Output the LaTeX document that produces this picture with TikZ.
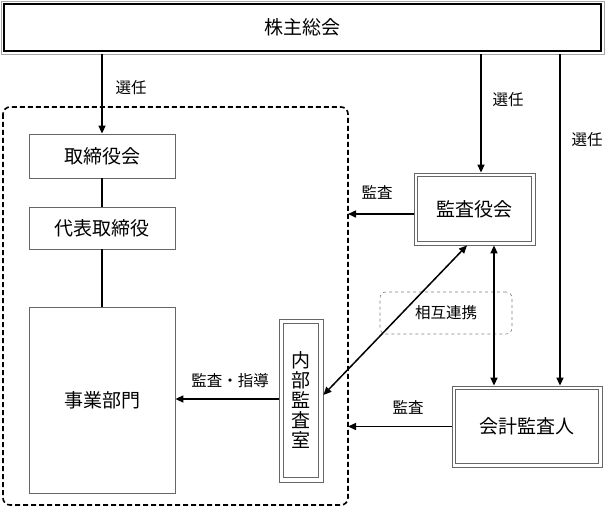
\documentclass[tikz,border=0pt]{standalone}
\usepackage{fontspec}
\setmainfont{Noto Sans CJK JP}
\usetikzlibrary{arrows.meta,calc}
\begin{document}
\begin{tikzpicture}[x=1pt,y=-1pt,
  box/.style={draw=gray!80!black,line width=0.8pt,fill=white,inner sep=0pt,font=\fontsize{19}{20}\selectfont},
  lbl/.style={font=\fontsize{15.5}{17}\selectfont,inner sep=0pt},
  arr/.style={line width=1.5pt,-{Triangle[length=8pt,width=7pt]}},
  darr/.style={line width=1.5pt,{Triangle[length=8pt,width=7pt]}-{Triangle[length=8pt,width=7pt]}},
  ln/.style={line width=1.5pt}]
\useasboundingbox (0,0) rectangle (605,508);
% dashed group
\draw[line width=1.6pt,dash pattern=on 5pt off 3pt,rounded corners=7pt] (3,107) rectangle (348,505);
\coordinate (grpE) at (348,300);
% nodes
\node[box,draw=gray!70,minimum width=603pt,minimum height=53pt] (gm) at (302.5,27.5) {株主総会};
\draw[line width=2.2pt] ([xshift=3.5pt,yshift=-3.5pt]gm.north west) rectangle ([xshift=-3.5pt,yshift=3.5pt]gm.south east);
\node[box,minimum width=146pt,minimum height=44pt] (tr) at (102,156) {取締役会};
\node[box,minimum width=146pt,minimum height=42pt] (dr) at (102,228) {代表取締役};
\node[box,minimum width=146pt,minimum height=186pt] (jb) at (102,400) {事業部門};
\node[box,minimum width=44pt,minimum height=163pt,align=center] (ia) at (301,400.5) {内\\部\\監\\査\\室};
\draw[gray!80!black,line width=0.8pt] ([xshift=5pt,yshift=-5pt]ia.north west) rectangle ([xshift=-5pt,yshift=5pt]ia.south east);
\node[box,minimum width=121pt,minimum height=72pt] (ka) at (474.5,209) {監査役会};
\draw[gray!80!black,line width=0.8pt] ([xshift=4pt,yshift=-4pt]ka.north west) rectangle ([xshift=-4pt,yshift=4pt]ka.south east);
\node[box,minimum width=150pt,minimum height=81pt] (ak) at (527,426.5) {会計監査人};
\draw[gray!80!black,line width=0.8pt] ([xshift=4pt,yshift=-4pt]ak.north west) rectangle ([xshift=-4pt,yshift=4pt]ak.south east);
\node[draw=gray,dashed,rounded corners=6pt,line width=0.6pt,minimum width=132pt,minimum height=42pt,inner sep=0pt] (so) at (446,313) {};
\node[lbl] (sot) at (446,313) {相互連携};
% connectors
\draw[ln] (tr.south) -- (dr.north);
\draw[ln] (dr.south) -- (jb.north);
\draw[arr] (gm.south -| tr.north) -- (tr.north);
\coordinate (kaN) at ([xshift=6.5pt]ka.north);
\draw[arr] (gm.south -| kaN) -- (kaN);
\coordinate (akN) at ([xshift=33pt]ak.north);
\draw[arr] (gm.south -| akN) -- (akN);
\coordinate (kaW) at ([yshift=-5pt]ka.west);
\draw[arr] (kaW) -- (grpE |- kaW);
\draw[arr] (ak.west) -- (grpE |- ak.west);
\coordinate (iaW) at ([yshift=1.5pt]ia.west);
\draw[arr] (iaW) -- (jb.east |- iaW);
\coordinate (kaS) at ([xshift=19.5pt]ka.south);
\draw[darr] (kaS) -- (kaS |- ak.north);
\coordinate (kaS2) at ([xshift=-7.5pt]ka.south);
\coordinate (iaE) at ([yshift=5.5pt]ia.east);
\draw[darr] (kaS2) -- (iaE);
% labels
\node[lbl] at (131,88) {選任};
\node[lbl] at (508,100) {選任};
\node[lbl] at (587,140) {選任};
\node[lbl] at (377,192) {監査};
\node[lbl] at (408,407) {監査};
\node[lbl] at (230,381) {監査・指導};
\end{tikzpicture}
\end{document}
